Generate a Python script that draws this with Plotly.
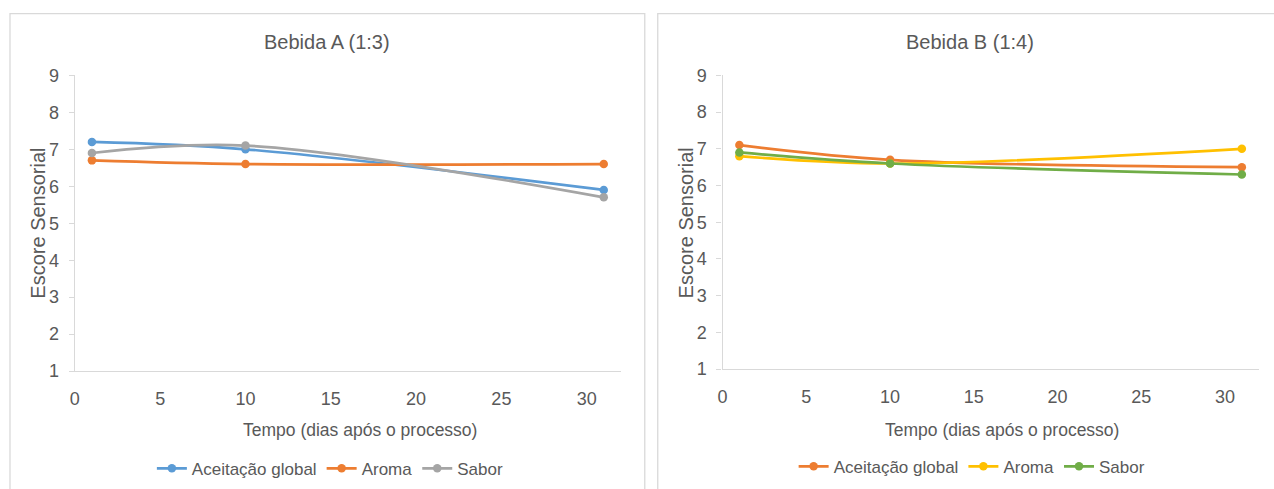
import plotly.graph_objects as go

# ---------------- data ----------------
dias = [1, 10, 31]
series_names = ["Aceitação global", "Aroma", "Sabor"]

a_aceitacao = [7.2, 7.0, 5.9]
a_aroma = [6.7, 6.6, 6.6]
a_sabor = [6.9, 7.1, 5.7]

b_aceitacao = [7.1, 6.7, 6.5]
b_aroma = [6.8, 6.6, 7.0]
b_sabor = [6.9, 6.6, 6.3]

titles = ["Bebida A (1:3)", "Bebida B (1:4)"]
x_title = "Tempo (dias após o processo)"
y_title = "Escore Sensorial"

colors_a = ["#5B9BD5", "#ED7D31", "#A5A5A5"]
colors_b = ["#ED7D31", "#FFC000", "#70AD47"]

W, H = 1274, 489
TXT = "#595959"
AXC = "#D9D9D9"
FONT = "Liberation Sans, Arial, sans-serif"

# mapping of target screen pixels to paper coordinates (compensates the capture offset)
OX, SX = 4.0, 0.998
OY, SY = 8.4, 0.963


def px(x):
    return ((x - OX) / SX) / W


def py(y):
    return 1 - ((y - OY) / SY) / H


fig = go.Figure()

panels = [
    dict(vals=[a_aceitacao, a_aroma, a_sabor], colors=colors_a, xa="x", ya="y", legend="legend"),
    dict(vals=[b_aceitacao, b_aroma, b_sabor], colors=colors_b, xa="x2", ya="y2", legend="legend2"),
]

for p in panels:
    for name, vals, col in zip(series_names, p["vals"], p["colors"]):
        fig.add_trace(go.Scatter(
            x=dias, y=vals, name=name, mode="lines+markers",
            line=dict(color=col, width=2.7, shape="spline", smoothing=1.0),
            marker=dict(color=col, size=8.5),
            xaxis=p["xa"], yaxis=p["ya"], legend=p["legend"],
        ))

x_common = dict(
    showgrid=False, zeroline=False, showline=True, linecolor=AXC, linewidth=1.3,
    ticks="", ticklabelstandoff=11, range=[0, 32], dtick=5, tick0=0,
    tickfont=dict(family=FONT, size=18, color=TXT),
)
y_common = dict(
    showgrid=False, zeroline=False, showline=True, linecolor=AXC, linewidth=1.3,
    ticks="outside", ticklen=5, tickcolor=AXC, ticklabelstandoff=6,
    range=[1, 9], dtick=1,
    tickfont=dict(family=FONT, size=18, color=TXT),
)

legend_common = dict(orientation="h", xanchor="center", yanchor="middle",
                     font=dict(family=FONT, size=17, color=TXT), bgcolor="rgba(0,0,0,0)",
                     itemwidth=30, tracegroupgap=0)

fig.update_layout(
    width=W, height=H, margin=dict(l=0, r=0, t=0, b=0),
    paper_bgcolor="white", plot_bgcolor="white",
    font=dict(family=FONT, color=TXT),
    xaxis=dict(domain=[px(74), px(621)], anchor="y", **x_common),
    yaxis=dict(domain=[py(371), py(74)], anchor="x", **y_common),
    xaxis2=dict(domain=[px(723), px(1260)], anchor="y2", **x_common),
    yaxis2=dict(domain=[py(369), py(74)], anchor="x2", **y_common),
    legend=dict(x=px(330), y=py(469), **legend_common),
    legend2=dict(x=px(973), y=py(467), **legend_common),
    showlegend=True,
)

# panel frames
fig.add_shape(type="rect", xref="paper", yref="paper", x0=px(9), x1=px(645), y0=-0.2, y1=py(12),
              line=dict(color=AXC, width=1.3), layer="below")
fig.add_shape(type="rect", xref="paper", yref="paper", x0=px(658), x1=px(1300), y0=-0.2, y1=py(12),
              line=dict(color=AXC, width=1.3), layer="below")

# titles and axis titles
title_x = [327, 971]
xt_x = [360, 1003]
yt_x = [37, 686]
for i in range(2):
    fig.add_annotation(text=titles[i], x=px(title_x[i]), y=py(41), xref="paper", yref="paper",
                       showarrow=False, xanchor="center", yanchor="middle",
                       font=dict(family=FONT, size=20, color=TXT))
    fig.add_annotation(text=x_title, x=px(xt_x[i]), y=py(430), xref="paper", yref="paper",
                       showarrow=False, xanchor="center", yanchor="middle",
                       font=dict(family=FONT, size=17.5, color=TXT))
    fig.add_annotation(text=y_title, x=px(yt_x[i]), y=py(222), xref="paper", yref="paper",
                       showarrow=False, xanchor="center", yanchor="middle", textangle=-90,
                       font=dict(family=FONT, size=20, color=TXT))

post = (
    "document.documentElement.style.margin='0';"
    "document.body.style.margin='0';"
    "document.body.style.overflow='hidden';"
)

fig.write_html("out.html", config={"displayModeBar": False}, post_script=post)
